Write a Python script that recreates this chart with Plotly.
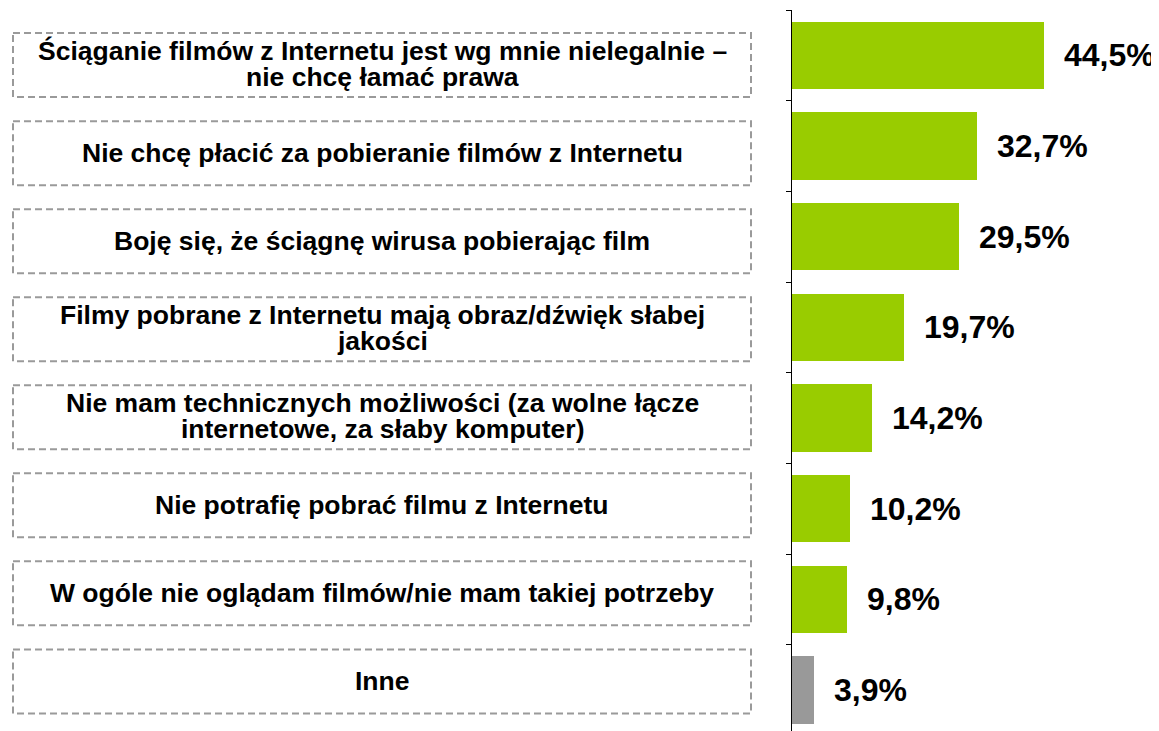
import plotly.graph_objects as go

labels = [
    "Ściąganie filmów z Internetu jest wg mnie nielegalnie –<br>nie chcę łamać prawa",
    "Nie chcę płacić za pobieranie filmów z Internetu",
    "Boję się, że ściągnę wirusa pobierając film",
    "Filmy pobrane z Internetu mają obraz/dźwięk słabej<br>jakości",
    "Nie mam technicznych możliwości (za wolne łącze<br>internetowe, za słaby komputer)",
    "Nie potrafię pobrać filmu z Internetu",
    "W ogóle nie oglądam filmów/nie mam takiej potrzeby",
    "Inne",
]
values = [44.5, 32.7, 29.5, 19.7, 14.2, 10.2, 9.8, 3.9]
colors = ["#99CC00"] * 7 + ["#999999"]

# page body has an 8px margin, so the figure is drawn 8px smaller
OFF = 8
W, H = 1159 - OFF, 731 - OFF
plot_left = 792 - OFF
FONT = "Liberation Sans, Arial, sans-serif"

fig = go.Figure()
fig.add_trace(go.Bar(
    x=values, y=list(range(len(values))), orientation="h",
    marker=dict(color=colors, line=dict(width=0)),
    width=0.74, hoverinfo="skip",
))
# invisible trace for the label panel axes
fig.add_trace(go.Scatter(x=[400], y=[0], xaxis="x2", yaxis="y2", mode="markers",
                         marker=dict(opacity=0), hoverinfo="skip", showlegend=False))

shapes = []
annotations = []
half_h = 32
pitch2 = 88.04
for i, (lab, v) in enumerate(zip(labels, values)):
    # value label
    annotations.append(dict(
        x=v, y=i, xref="x", yref="y", text=f"{v:.1f}".replace(".", ",") + "%",
        xanchor="left", yanchor="middle", xshift=18, showarrow=False,
        font=dict(family=FONT, size=32, color="black", weight="bold"),
    ))
    # dashed box
    shapes.append(dict(
        type="rect", xref="x2", yref="y2", x0=13, x1=751,
        y0=i - half_h / pitch2, y1=i + half_h / pitch2,
        line=dict(color="#9a9a9a", width=2, dash="7px,4px"),
        fillcolor="rgba(0,0,0,0)", layer="above",
    ))
    lines = lab.split("<br>")
    n = len(lines)
    for k, ln in enumerate(lines):
        annotations.append(dict(
            x=382, y=i, xref="x2", yref="y2", text=ln,
            xanchor="center", yanchor="middle", showarrow=False,
            yshift=-((k - (n - 1) / 2) * 26) + (1.5 if n > 1 else 0),
            font=dict(family=FONT, size=26.5, color="black", weight="bold"),
        ))

fig.update_layout(
    width=W, height=H,
    margin=dict(l=0, r=0, t=10 - OFF, b=0),
    paper_bgcolor="white", plot_bgcolor="white",
    showlegend=False, bargap=0,
    xaxis=dict(domain=[plot_left / W, 1], range=[0, (W - plot_left) / 5.66],
               visible=False, fixedrange=True),
    yaxis=dict(range=[7.452, -0.5], showline=True, linecolor="black", linewidth=1,
               ticks="outside", ticklen=5, tickcolor="black", tickwidth=1,
               tickvals=[-0.5 + j for j in range(len(values) + 1)],
               showticklabels=False, showgrid=False, zeroline=False),
    xaxis2=dict(domain=[0, plot_left / W], range=[OFF, 792], visible=False,
                anchor="y2"),
    yaxis2=dict(domain=[0, 1], range=[(731 - 65.1) / pitch2, (10 - 65.1) / pitch2],
                visible=False, anchor="x2"),
    shapes=shapes, annotations=annotations,
)

fig.write_html("out.html")
